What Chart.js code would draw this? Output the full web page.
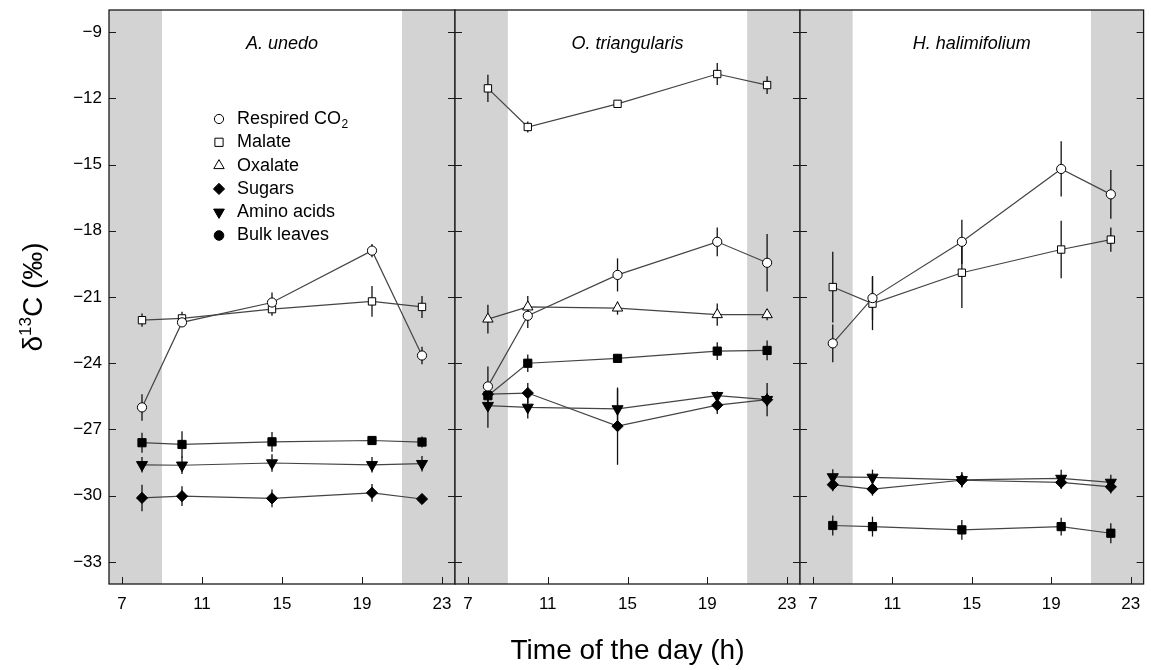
<!DOCTYPE html>
<html>
<head>
<meta charset="utf-8">
<title>Diel course of δ13C</title>
<script src="https://cdn.jsdelivr.net/npm/chart.js@4.4.1/dist/chart.umd.min.js"></script>
<style>
  html, body { margin: 0; padding: 0; background: #fff; }
  #wrap { position: relative; width: 1151px; height: 670px; }
  #wrap canvas { position: absolute; left: 0; top: 0; }
</style>
</head>
<body>
<div id="wrap">
  <canvas id="p0" width="1151" height="670"></canvas>
  <canvas id="p1" width="1151" height="670"></canvas>
  <canvas id="p2" width="1151" height="670"></canvas>
</div>
<script>
const FONT = "'Liberation Sans', Arial, Helvetica, sans-serif";

// panels / axes
const species = ['A. unedo', 'O. triangularis', 'H. halimifolium'];
const hours = [8, 10, 14.5, 19.5, 22];
const hourTicks = [7, 11, 15, 19, 23];
const deltaTicks = [-33, -30, -27, -24, -21, -18, -15, -12, -9];
const darkHours = [[0, 9], [21, 24]];

// δ13C values, one row per panel (A. unedo, O. triangularis, H. halimifolium)
const respiredCO2 = [
  [-26.0, -22.15, -21.25, -18.9, -23.65],
  [-25.05, -21.85, -20.0, -18.5, -19.45],
  [-23.1, -21.05, -18.5, -15.2, -16.35]
];
const respiredErr = [
  [0.6, 0.2, 0.45, 0.3, 0.4],
  [0.9, 0.55, 0.75, 0.65, 1.3],
  [0.85, 1.0, 1.0, 1.25, 1.1]
];
const malate = [
  [-22.05, -21.97, -21.55, -21.2, -21.45],
  [-11.55, -13.3, -12.25, -10.9, -11.4],
  [-20.55, -21.3, -19.9, -18.85, -18.4]
];
const malateErr = [
  [0.3, 0.3, 0.3, 0.7, 0.5],
  [0.62, 0.25, 0.12, 0.5, 0.4],
  [1.6, 1.2, 1.6, 1.3, 0.55]
];
const oxalate = [
  null,
  [-22.0, -21.45, -21.5, -21.8, -21.8],
  null
];
const oxalateErr = [
  null,
  [0.65, 0.5, 0.3, 0.5, 0.25],
  null
];
const sugars = [
  [-30.1, -30.02, -30.12, -29.87, -30.15],
  [-25.4, -25.35, -26.85, -25.9, -25.65],
  [-29.5, -29.7, -29.3, -29.4, -29.6]
];
const sugarsErr = [
  [0.6, 0.45, 0.4, 0.4, 0.2],
  [0.2, 0.45, 1.75, 0.4, 0.75],
  [0.3, 0.3, 0.3, 0.3, 0.3]
];
const aminoAcids = [
  [-28.6, -28.62, -28.52, -28.6, -28.55],
  [-25.92, -26.0, -26.07, -25.47, -25.65],
  [-29.15, -29.17, -29.28, -29.22, -29.4]
];
const aminoErr = [
  [0.35, 0.4, 0.4, 0.35, 0.35],
  [1.0, 0.5, 0.9, 0.2, 0.3],
  [0.35, 0.35, 0.35, 0.4, 0.35]
];
const bulkLeaves = [
  [-27.6, -27.68, -27.56, -27.5, -27.57],
  [-25.47, -24.0, -23.78, -23.45, -23.42],
  [-31.35, -31.4, -31.55, -31.4, -31.7]
];
const bulkErr = [
  [0.45, 0.6, 0.45, 0.2, 0.25],
  [0.3, 0.4, 0.2, 0.4, 0.45],
  [0.45, 0.45, 0.45, 0.4, 0.45]
];

const seriesList = [
  { label: 'Respired CO₂', values: respiredCO2, errors: respiredErr,
    style: { pointStyle: 'circle', rotation: 0, radius: 4.6, fill: '#fff' },
    legend: { pointStyle: 'circle', rotation: 0, radius: 4.6, fill: '#fff' } },
  { label: 'Malate', values: malate, errors: malateErr,
    style: { pointStyle: 'rect', rotation: 0, radius: 5.2, fill: '#fff' },
    legend: { pointStyle: 'rect', rotation: 0, radius: 5.8, fill: '#fff' } },
  { label: 'Oxalate', values: oxalate, errors: oxalateErr,
    style: { pointStyle: 'triangle', rotation: 0, radius: 6, fill: '#fff' },
    legend: { pointStyle: 'triangle', rotation: 0, radius: 6, fill: '#fff' } },
  { label: 'Sugars', values: sugars, errors: sugarsErr,
    style: { pointStyle: 'rectRot', rotation: 0, radius: 5.6, fill: '#000' },
    legend: { pointStyle: 'rectRot', rotation: 0, radius: 5.6, fill: '#000' } },
  { label: 'Amino acids', values: aminoAcids, errors: aminoErr,
    style: { pointStyle: 'triangle', rotation: 180, radius: 6.4, fill: '#000' },
    legend: { pointStyle: 'triangle', rotation: 180, radius: 6.2, fill: '#000' } },
  { label: 'Bulk leaves', values: bulkLeaves, errors: bulkErr,
    style: { pointStyle: 'rect', rotation: 0, radius: 5.8, fill: '#000' },
    legend: { pointStyle: 'circle', rotation: 0, radius: 4.8, fill: '#000' } }
];

const padLeft = [0, 455, 800];
const padRight = [696, 351, 2];

function drawMarker(ctx, st, x, y){
  ctx.save();
  ctx.fillStyle = st.fill;
  ctx.strokeStyle = '#000';
  ctx.lineWidth = 1;
  Chart.helpers.drawPoint(ctx, { pointStyle: st.pointStyle, rotation: st.rotation, radius: st.radius, borderWidth: 1 }, x, y);
  ctx.restore();
}

// scales should not reserve room for labels overhanging the edges
function noEdgePadding(sc){
  sc.paddingTop = 0;
  sc.paddingBottom = 0;
  sc.paddingLeft = 0;
  sc.paddingRight = 0;
}

function panelPlugin(p){
  return {
    id: 'panel' + p,
    beforeDatasetsDraw(chart){
      const { ctx, chartArea: a, scales: { x, y } } = chart;
      ctx.save();
      ctx.beginPath();
      ctx.rect(a.left, a.top, a.right - a.left, a.bottom - a.top);
      ctx.clip();
      ctx.fillStyle = '#d3d3d3';
      darkHours.forEach(([h0, h1]) => {
        const x0 = Math.max(a.left, x.getPixelForValue(h0));
        const x1 = Math.min(a.right, x.getPixelForValue(h1));
        ctx.fillRect(x0, a.top, x1 - x0, a.bottom - a.top);
      });
      ctx.restore();

      // error bars (SD), under the markers
      ctx.save();
      ctx.strokeStyle = '#111';
      ctx.lineWidth = 1.3;
      chart.data.datasets.forEach(ds => {
        ds.data.forEach((pt, i) => {
          const e = ds.errors[i];
          if(!e) return;
          const px = x.getPixelForValue(pt.x);
          ctx.beginPath();
          ctx.moveTo(px, y.getPixelForValue(pt.y + e));
          ctx.lineTo(px, y.getPixelForValue(pt.y - e));
          ctx.stroke();
        });
      });
      ctx.restore();
    },
    afterDatasetsDraw(chart){
      const { ctx, chartArea: a, scales: { x, y } } = chart;
      ctx.save();
      ctx.strokeStyle = '#1a1a1a';
      ctx.lineWidth = 1.3;
      ctx.strokeRect(a.left, a.top, a.right - a.left, a.bottom - a.top);
      ctx.beginPath();
      hourTicks.forEach(h => {
        const px = Math.round(x.getPixelForValue(h)) + 0.5;
        ctx.moveTo(px, a.bottom);
        ctx.lineTo(px, a.bottom - 7);
      });
      deltaTicks.forEach(v => {
        const py = Math.round(y.getPixelForValue(v)) + 0.5;
        ctx.moveTo(a.left, py);
        ctx.lineTo(a.left + 7, py);
        ctx.moveTo(a.right, py);
        ctx.lineTo(a.right - 7, py);
      });
      ctx.lineWidth = 1;
      ctx.stroke();

      // species name
      ctx.fillStyle = '#000';
      ctx.font = 'italic 18px ' + FONT;
      ctx.textAlign = 'center';
      ctx.textBaseline = 'alphabetic';
      ctx.fillText(species[p], (a.left + a.right) / 2, 49);
      ctx.restore();
    },
    afterDraw(chart){
      if(p !== 0) return;
      const { ctx } = chart;
      // legend inside first panel
      ctx.save();
      ctx.fillStyle = '#000';
      ctx.textAlign = 'left';
      ctx.textBaseline = 'middle';
      seriesList.forEach((s, i) => {
        const cy = 119 + i * 23.3;
        drawMarker(ctx, s.legend, 219, cy);
        ctx.fillStyle = '#000';
        ctx.font = '18px ' + FONT;
        if(s.label.includes('₂')){
          const main = s.label.replace('₂', '');
          ctx.fillText(main, 237, cy);
          const w = ctx.measureText(main).width;
          ctx.font = '12px ' + FONT;
          ctx.fillText('2', 237 + w + 0.5, cy + 6);
        } else {
          ctx.fillText(s.label, 237, cy);
        }
      });
      ctx.restore();

      // y axis title with superscript
      ctx.save();
      ctx.translate(42, 297);
      ctx.rotate(-Math.PI / 2);
      ctx.fillStyle = '#000';
      ctx.textBaseline = 'alphabetic';
      ctx.textAlign = 'left';
      const parts = [
        { t: 'δ', size: 28, dy: 0 },
        { t: '13', size: 17, dy: -11 },
        { t: 'C (‰)', size: 28, dy: 0 }
      ];
      let total = 0;
      parts.forEach(pt => { ctx.font = pt.size + 'px ' + FONT; pt.w = ctx.measureText(pt.t).width; total += pt.w; });
      let cx = -total / 2;
      parts.forEach(pt => { ctx.font = pt.size + 'px ' + FONT; ctx.fillText(pt.t, cx, pt.dy); cx += pt.w; });
      ctx.restore();
    }
  };
}

function makePanel(p){
  const first = p === 0;
  const datasets = [];
  seriesList.forEach(s => {
    const vals = s.values[p];
    if(!vals) return;
    datasets.push({
      label: s.label,
      data: hours.map((h, i) => ({ x: h, y: vals[i] })),
      errors: s.errors[p],
      showLine: true,
      borderColor: '#444',
      borderWidth: 1.2,
      tension: 0,
      pointStyle: s.style.pointStyle,
      pointRotation: s.style.rotation,
      pointRadius: s.style.radius,
      pointBackgroundColor: s.style.fill,
      pointBorderColor: '#000',
      pointBorderWidth: 1
    });
  });

  return new Chart(document.getElementById('p' + p), {
    type: 'line',
    data: { datasets },
    options: {
      responsive: false,
      animation: false,
      events: [],
      layout: { padding: { left: padLeft[p], right: padRight[p], top: 10, bottom: 0 } },
      plugins: { legend: { display: false }, tooltip: { enabled: false } },
      scales: {
        x: {
          type: 'linear',
          min: 6.35,
          max: 23.65,
          afterBuildTicks: sc => { sc.ticks = hourTicks.map(v => ({ value: v })); },
          afterFit: sc => { sc.height = 86; noEdgePadding(sc); },
          grid: { display: false, drawTicks: false },
          border: { display: false },
          ticks: { color: '#000', font: { family: FONT, size: 17 }, padding: 10, maxRotation: 0, autoSkip: false },
          title: {
            display: p === 1,
            text: 'Time of the day (h)',
            color: '#000',
            font: { family: FONT, size: 28 },
            padding: { top: 0, bottom: 2 }
          }
        },
        y: {
          type: 'linear',
          min: -34,
          max: -8,
          afterBuildTicks: sc => { sc.ticks = deltaTicks.map(v => ({ value: v })); },
          afterFit: sc => { sc.width = first ? 109 : 0; noEdgePadding(sc); },
          grid: { display: false, drawTicks: false },
          border: { display: false },
          ticks: {
            display: first,
            color: '#000',
            font: { family: FONT, size: 17 },
            padding: 7,
            callback: v => String(v).replace('-', '\u2212')
          }
        }
      }
    },
    plugins: [panelPlugin(p)]
  });
}

try{
  [0, 1, 2].forEach(makePanel);
}catch(e){
  console.error(e);
}
</script>
</body>
</html>
